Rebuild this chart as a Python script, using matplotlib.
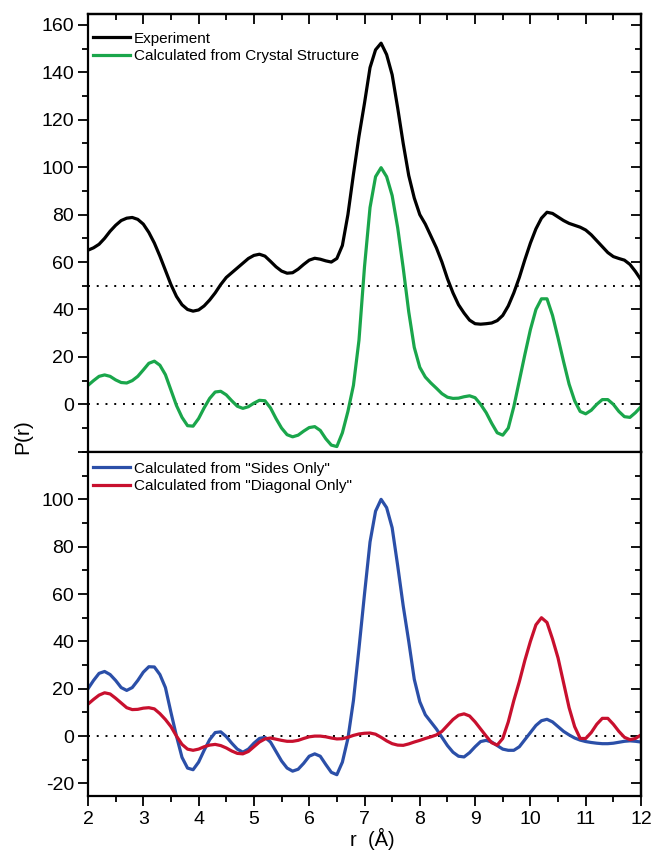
import numpy as np
import matplotlib
matplotlib.use("Agg")
import matplotlib.pyplot as plt
from matplotlib.ticker import MultipleLocator, FixedLocator, FuncFormatter

plt.rcParams['font.family'] = ['Liberation Sans', 'DejaVu Sans']
plt.rcParams['axes.unicode_minus'] = False

# r grid, 2 .. 12 A in steps of 0.1
r = np.round(np.arange(20, 121) / 10.0, 1)

# values
experiment = [
    65, 66, 67.5, 70, 73, 75.5, 77.5, 78.5, 78.8, 78,
    76, 72.5, 68, 62.5, 56.5, 50.5, 45.5, 42, 40, 39.3,
    39.8, 41.5, 44, 47, 50.5, 53.5, 55.5, 57.5, 59.5, 61.5,
    62.8, 63.3, 62.5, 60.3, 58, 56.2, 55.3, 55.5, 57, 59,
    60.8, 61.6, 61.2, 60.5, 60, 61.5, 67, 80, 97, 113,
    127, 142, 149.5, 152.3, 147.5, 139, 125, 110, 96.5, 87,
    80, 76, 71, 66, 60, 53, 47, 42, 38.5, 35.5,
    34, 33.8, 34, 34.3, 35.3, 37.5, 41.5, 47, 53.5, 61,
    68, 74, 78.5, 81, 80.5, 79, 77.5, 76.3, 75.5, 74.7,
    73.5, 71.5, 69, 66.5, 64, 62.3, 61.5, 60.8, 59, 56,
    52.5,
]
crystal = [
    8, 10, 11.8, 12.4, 11.8, 10.3, 9.2, 9, 10, 11.8,
    14.5, 17.3, 18.2, 16.5, 12.5, 6, -0.5, -5.5, -9, -9.2,
    -6, -1.5, 2.5, 5.2, 5.5, 4, 1.5, -0.8, -1.7, -1,
    0.5, 1.7, 1.5, -1.5, -6, -10, -12.8, -13.7, -13, -11.3,
    -9.8, -9.4, -11, -14.5, -17.2, -17.8, -12, -3, 8, 27,
    58, 83, 96, 99.8, 96, 88, 74.5, 57.5, 39, 24,
    15.6, 11.5, 9, 6.8, 4.5, 3, 2.5, 2.6, 3.2, 3.6,
    2.8, 0, -3.5, -8, -12, -13, -10, -1, 10, 21,
    31.5, 40, 44.5, 44.5, 37.5, 28, 18, 8.5, 1.5, -3,
    -4, -2.5, 0, 2, 2, 0, -3, -5.2, -5.5, -3.5,
    -1,
]
sides = [
    20, 23.5, 26.5, 27.3, 26, 23.5, 20.5, 19.3, 20.5, 23.5,
    27, 29.3, 29.2, 26, 20.5, 10, 0, -9, -13.5, -14.2,
    -11, -6, -1.5, 1.5, 1.8, -0.2, -3, -5.5, -6.8, -5.5,
    -3, -1, -0.5, -2.5, -6.5, -10.5, -13.5, -14.8, -14, -11.5,
    -8.5, -7.5, -8.5, -12, -15.3, -16.3, -11, -1, 15, 37,
    60, 82, 95, 100, 96.5, 88, 72, 55, 40, 24,
    14.5, 9, 6, 3, -0.5, -4, -6.8, -8.5, -8.8, -7,
    -4.5, -2.3, -1.8, -2.5, -4, -5.5, -6, -6, -4.5, -1.5,
    1.5, 4.5, 6.5, 7.1, 6, 4, 2, 0.5, -0.8, -1.7,
    -2.3, -2.7, -3, -3.2, -3.2, -3, -2.6, -2.2, -2, -2.2,
    -2.5,
]
diagonal = [
    13.5, 15.5, 17.3, 18.3, 17.8, 16, 14, 12, 11.2, 11.3,
    11.8, 12, 11.5, 9.5, 7, 4, 0, -3.5, -5.5, -6,
    -5.5, -4.5, -3.8, -3.5, -4, -5, -6.3, -7.3, -7.5, -6.5,
    -4.5, -2.5, -1.2, -0.8, -1.3, -1.8, -2.2, -2.2, -1.8, -1,
    -0.3, 0, 0, -0.3, -0.8, -1.2, -1.1, -0.5, 0.3, 0.9,
    1.2, 1.3, 0.8, -0.5, -2, -3.2, -3.8, -3.9, -3.3, -2.5,
    -1.8, -1, -0.3, 0.5, 2, 4.5, 7, 8.8, 9.4, 8.5,
    6, 3, 0, -2.8, -3.8, -1, 6, 15, 23, 32,
    40, 47, 50, 48, 41, 33, 22.5, 12, 4, -1,
    -1, 1.5, 5, 7.5, 7.5, 5, 2, -0.5, -1.5, -1,
    0.5,
]

top_refs = [50, 0]
bottom_refs = [0]

fig = plt.figure(figsize=(6.55, 8.5), dpi=100)
left, width = 88 / 655, (641 - 88) / 655
ax1 = fig.add_axes([left, 1 - 452 / 850, width, (452 - 14) / 850])
ax2 = fig.add_axes([left, 1 - 796 / 850, width, (796 - 452) / 850], sharex=ax1)

lw = 2.3
ax1.plot(r, experiment, color='black', lw=lw, label='Experiment')
ax1.plot(r, crystal, color='#1aa64b', lw=lw, label='Calculated from Crystal Structure')
ax2.plot(r, sides, color='#2b4fa8', lw=lw, label='Calculated from "Sides Only"')
ax2.plot(r, diagonal, color='#c8102e', lw=lw, label='Calculated from "Diagonal Only"')

for y in top_refs:
    ax1.axhline(y, color='black', lw=1.4, ls=(0, (1, 3.5)), zorder=0)
for y in bottom_refs:
    ax2.axhline(y, color='black', lw=1.4, ls=(0, (1, 3.5)), zorder=0)

ax1.set_xlim(2, 12)
ax1.set_ylim(-20.1, 164.6)
ax2.set_ylim(-25.3, 120)

ax1.yaxis.set_major_locator(FixedLocator(range(-20, 161, 20)))
ax1.yaxis.set_major_formatter(FuncFormatter(lambda v, p: '' if v < 0 else '%d' % v))
ax1.yaxis.set_minor_locator(MultipleLocator(10))
ax2.yaxis.set_major_locator(FixedLocator(range(-20, 101, 20)))
ax2.yaxis.set_minor_locator(MultipleLocator(10))
ax2.xaxis.set_major_locator(MultipleLocator(1))
ax2.xaxis.set_minor_locator(MultipleLocator(0.5))

for ax in (ax1, ax2):
    for s in ax.spines.values():
        s.set_linewidth(1.6)
    ax.tick_params(axis='y', which='major', direction='out', length=7, width=1.3,
                   labelsize=14, pad=3, right=False)
    ax.tick_params(axis='y', which='minor', direction='out', length=4, width=1.3, right=False)
    sec = ax.secondary_yaxis('right')
    sec.set_yticks(ax.get_yticks())
    sec.yaxis.set_minor_locator(MultipleLocator(10))
    sec.tick_params(which='major', direction='in', length=7, width=1.3, labelright=False)
    sec.tick_params(which='minor', direction='in', length=4, width=1.3)
    sec.spines['right'].set_linewidth(1.6)

ax1.tick_params(axis='x', which='both', bottom=False, labelbottom=False)
topx = ax1.secondary_xaxis('top')
topx.xaxis.set_major_locator(MultipleLocator(1))
topx.xaxis.set_minor_locator(MultipleLocator(0.5))
topx.tick_params(which='major', direction='in', length=7, width=1.3, labeltop=False)
topx.tick_params(which='minor', direction='in', length=4, width=1.3)
topx.spines['top'].set_linewidth(1.6)

ax2.tick_params(axis='x', which='major', direction='out', length=7, width=1.3,
                labelsize=14, pad=3.5, top=False)
ax2.tick_params(axis='x', which='minor', direction='out', length=4, width=1.3, top=False)

leg_kw = dict(loc='upper left', frameon=False, fontsize=11, handlelength=2.4,
              handletextpad=0.3, labelspacing=0.25, borderaxespad=0, borderpad=0)
ax1.legend(bbox_to_anchor=(0.009, 0.96), **leg_kw)
ax2.legend(bbox_to_anchor=(0.009, 0.972), **leg_kw)

fig.text(23 / 655, 1 - 437 / 850, 'P(r)', rotation=90, fontsize=15,
         ha='center', va='center')
fig.text(372 / 655, 1 - 845.7 / 850, 'r  (Å)', fontsize=14.5, ha='center', va='baseline')

fig.savefig('out.png', dpi=100)
